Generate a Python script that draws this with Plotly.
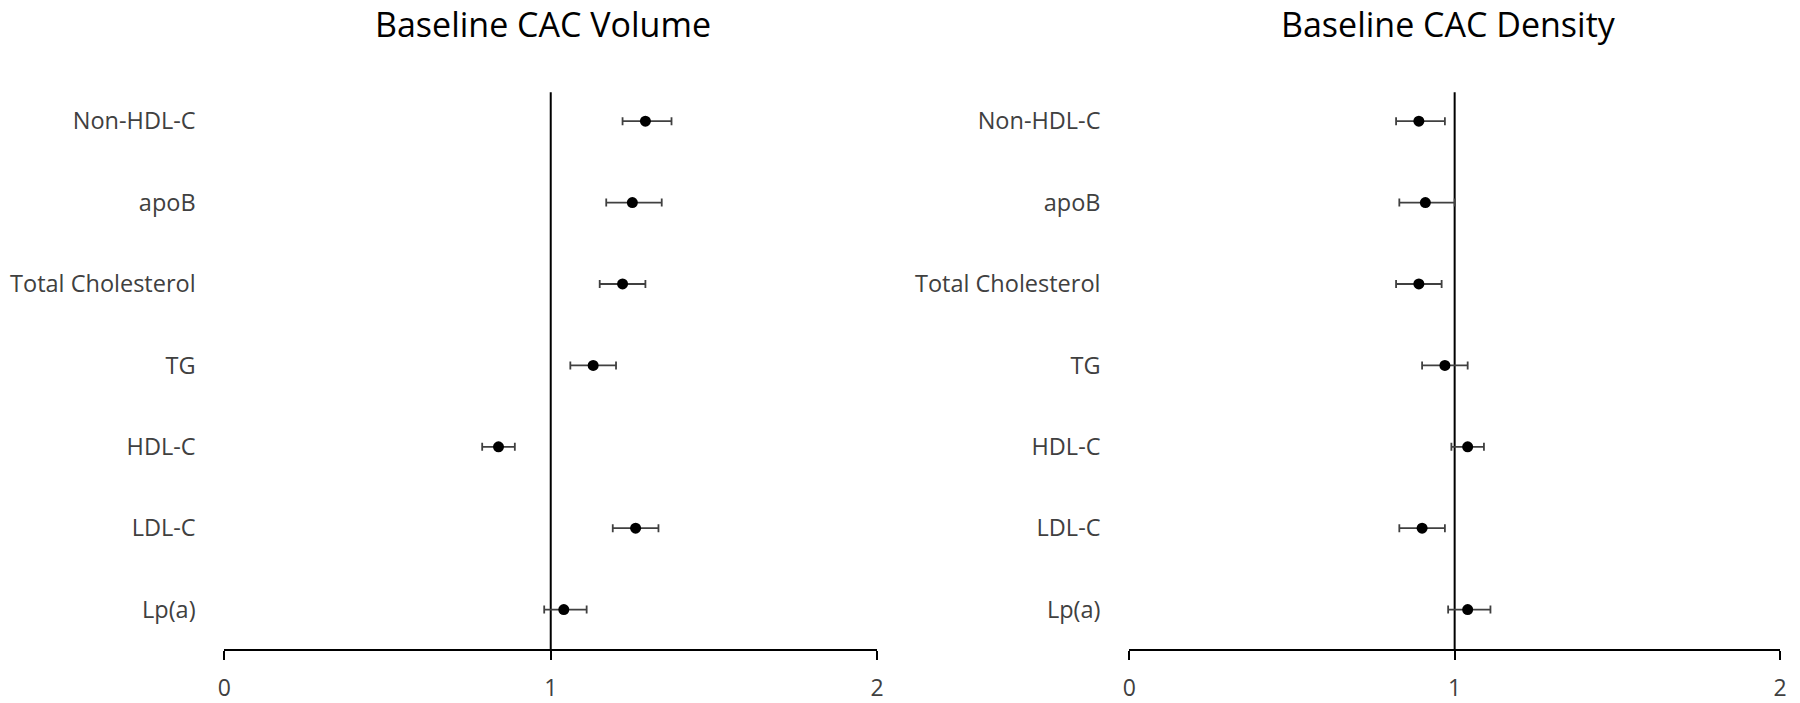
import plotly.graph_objects as go

# ---- data ----
categories = ["Lp(a)", "LDL-C", "HDL-C", "TG", "Total Cholesterol", "apoB", "Non-HDL-C"]
cat_pos = [1, 2, 3, 4, 5, 6, 7]

volume_est = [1.04, 1.26, 0.84, 1.13, 1.22, 1.25, 1.29]
volume_lo = [0.98, 1.19, 0.79, 1.06, 1.15, 1.17, 1.22]
volume_hi = [1.11, 1.33, 0.89, 1.20, 1.29, 1.34, 1.37]

density_est = [1.04, 0.90, 1.04, 0.97, 0.89, 0.91, 0.89]
density_lo = [0.98, 0.83, 0.99, 0.90, 0.82, 0.83, 0.82]
density_hi = [1.11, 0.97, 1.09, 1.04, 0.96, 1.00, 0.97]

panel_titles = ["Baseline CAC Volume", "Baseline CAC Density"]
x_ticks = [0, 1, 2]

FONT = "Open Sans"
LABEL_COLOR = "#404040"

fig = go.Figure()

panels = [
    (volume_est, volume_lo, volume_hi, "x", "y"),
    (density_est, density_lo, density_hi, "x2", "y2"),
]
for est, lo, hi, xa, ya in panels:
    fig.add_trace(go.Scatter(
        x=est, y=cat_pos, mode="markers", xaxis=xa, yaxis=ya,
        marker=dict(color="black", size=11),
        error_x=dict(type="data", symmetric=False,
                     array=[h - e for h, e in zip(hi, est)],
                     arrayminus=[e - l for e, l in zip(est, lo)],
                     color="#404040", thickness=1.8, width=4),
        showlegend=False, hoverinfo="skip",
    ))

W, H = 1800, 703
left_dom = [219 / W, 877 / W]
right_dom = [1131 / W, 1787 / W]
y_dom = [1 - 654 / H, 1 - 93 / H]
y_range = [0.512, 7.354]

xa_common = dict(range=[0, 2], tickvals=x_ticks, ticktext=[str(t) for t in x_ticks],
                 showline=True, linecolor="black", linewidth=2,
                 ticks="outside", ticklen=9, tickwidth=2, tickcolor="black",
                 ticklabelstandoff=8,
                 showgrid=False, zeroline=False,
                 tickfont=dict(family=FONT, size=23, color=LABEL_COLOR))
ya_common = dict(range=y_range, tickvals=cat_pos, ticktext=categories,
                 showline=False, showgrid=False, zeroline=False,
                 ticks="outside", ticklen=23, tickcolor="rgba(0,0,0,0)",
                 tickfont=dict(family=FONT, size=23.5, color=LABEL_COLOR))

fig.update_layout(
    width=W, height=H,
    margin=dict(l=0, r=0, t=0, b=0),
    paper_bgcolor="white", plot_bgcolor="white",
    xaxis=dict(domain=left_dom, anchor="y", **xa_common),
    yaxis=dict(domain=y_dom, anchor="x", **ya_common),
    xaxis2=dict(domain=right_dom, anchor="y2", **xa_common),
    yaxis2=dict(domain=y_dom, anchor="x2", **ya_common),
)

# reference line at x = 1 in each panel
for xr, yr in [("x", "y domain"), ("x2", "y2 domain")]:
    fig.add_shape(type="line", xref=xr, yref=yr, x0=1, x1=1, y0=0, y1=1,
                  line=dict(color="black", width=2), layer="below")

# panel titles
for title, xc in zip(panel_titles, [540 / W, 1453 / W]):
    fig.add_annotation(text=title, xref="paper", yref="paper", x=xc, y=1 - 24 / H,
                       xanchor="center", yanchor="middle", showarrow=False,
                       font=dict(family=FONT, size=34, color="black"))

fig.write_html("out.html", config={"displayModeBar": False},
               post_script="document.body.style.margin='0';document.body.style.overflow='hidden';")
